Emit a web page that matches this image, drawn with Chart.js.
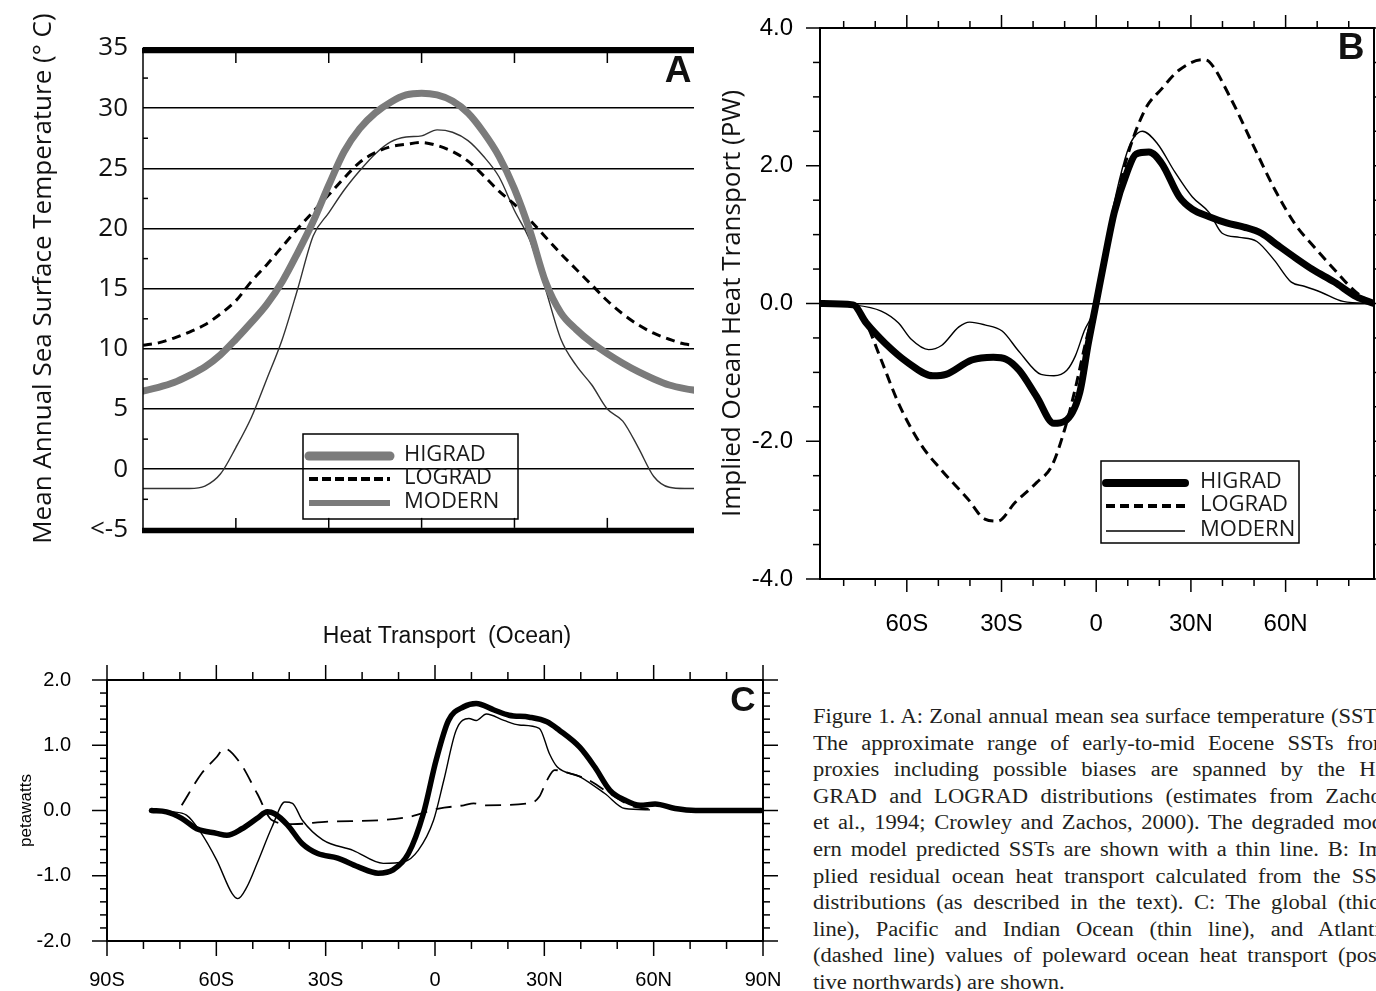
<!DOCTYPE html>
<html>
<head>
<meta charset="utf-8">
<script src="https://cdn.jsdelivr.net/npm/chart.js@4.4.1/dist/chart.umd.min.js"></script>
<style>
  html, body { margin: 0; padding: 0; background: #fff; }
  body { width: 1376px; height: 991px; position: relative; overflow: hidden; }
  canvas { position: absolute; }
  #chartA { left: 0; top: 0; }
  #chartB { left: 700px; top: 0; }
  #chartC { left: 0; top: 600px; }
  #caption { position: absolute; left: 813px; top: 703px; width: 525px;
    font-family: 'Liberation Serif', 'Times New Roman', serif; font-size: 20.5px;
    line-height: 26.6px; color: #231f20; transform: scaleX(1.1); transform-origin: 0 0; }
  #caption div { white-space: nowrap; text-align: justify; text-align-last: justify; }
  #caption div.last { text-align-last: left; }
</style>
</head>
<body>
<canvas id="chartA" width="700" height="560"></canvas>
<canvas id="chartB" width="676" height="640"></canvas>
<canvas id="chartC" width="790" height="391"></canvas>
<div id="caption">
  <div>Figure 1. A: Zonal annual mean sea surface temperature (SST).</div>
  <div>The approximate range of early-to-mid Eocene SSTs from</div>
  <div>proxies including possible biases are spanned by the HI-</div>
  <div>GRAD and LOGRAD distributions (estimates from Zachos</div>
  <div>et al., 1994; Crowley and Zachos, 2000). The degraded mod-</div>
  <div>ern model predicted SSTs are shown with a thin line. B: Im-</div>
  <div>plied residual ocean heat transport calculated from the SST</div>
  <div>distributions (as described in the text). C: The global (thick</div>
  <div>line), Pacific and Indian Ocean (thin line), and Atlantic</div>
  <div>(dashed line) values of poleward ocean heat transport (posi-</div>
  <div class="last">tive northwards) are shown.</div>
</div>
<script>
// ---- panel A : zonal mean SST (deg C) ----
const latA = [-90, -85, -80, -75, -70, -65, -60, -55, -50, -45, -40, -35, -30, -25, -20, -15, -10, -5, 0,
  5, 10, 15, 20, 25, 30, 35, 40, 45, 50, 55, 60, 65, 70, 75, 80, 85, 90];
const higradSST = [6.5, 6.8, 7.2, 7.8, 8.5, 9.5, 10.8, 12.2, 13.7, 15.6, 18.0, 20.6, 23.6, 26.4, 28.3, 29.6, 30.5, 31.1, 31.25,
  31.1, 30.6, 29.6, 28.0, 26.0, 23.3, 19.8, 15.6, 13.0, 11.6, 10.5, 9.6, 8.8, 8.1, 7.5, 7.0, 6.7, 6.5];
const logradSST = [10.3, 10.5, 10.9, 11.4, 12.0, 12.9, 14.0, 15.6, 17.0, 18.5, 20.0, 21.4, 22.8, 24.2, 25.5, 26.3, 26.8, 27.0, 27.15,
  26.9, 26.4, 25.6, 24.4, 23.1, 22.0, 20.7, 19.3, 17.9, 16.6, 15.3, 14.0, 12.9, 12.0, 11.3, 10.8, 10.4, 10.3];
const modernSST = [-1.6, -1.6, -1.6, -1.6, -1.4, -0.4, 1.8, 4.3, 7.5, 10.8, 15.0, 19.4, 21.3, 23.2, 24.8, 26.2, 27.2, 27.6, 27.7,
  28.2, 28.0, 27.3, 26.0, 24.3, 21.5, 19.0, 15.0, 10.8, 8.6, 7.0, 5.0, 4.0, 1.8, -0.6, -1.5, -1.6, -1.6];
const sstTicks = [-5, 0, 5, 10, 15, 20, 25, 30, 35];
const sstTickLabels = ['<-5', '0', '5', '10', '15', '20', '25', '30', '35'];

// ---- panel B : implied ocean heat transport (PW) ----
const bHigradLat = [-87.5, -77, -72.9, -66.8, -59.9, -51.7, -47.6, -39.4, -32.6, -28.5, -24.4, -18.9, -13.4, -10, -5.2, -2.5, 0,
  3, 5.7, 9.8, 12.6, 16.7, 20.8, 26.3, 30.4, 35.8, 41.3, 46.8, 52.3, 57.7, 63.2, 68.7, 75.5, 82.4, 88];
const bHigradPW = [0, -0.02, -0.28, -0.58, -0.85, -1.05, -1.03, -0.82, -0.78, -0.81, -0.97, -1.35, -1.74, -1.71, -1.29, -0.58, 0.01,
  0.72, 1.32, 1.91, 2.17, 2.20, 2.03, 1.55, 1.37, 1.26, 1.17, 1.11, 1.02, 0.84, 0.66, 0.49, 0.31, 0.10, 0];
const bLogradLat = [-87.5, -77, -72.9, -68.1, -62.7, -55.8, -49, -40.8, -35.3, -31.2, -25.7, -18.9, -14.1, -10, -6.6, -3.1, 0,
  3.7, 8.5, 15.3, 20.8, 26.3, 33.8, 35.8, 42.7, 49.5, 56.4, 63.2, 68.7, 75.5, 82.4, 88];
const bLogradPW = [0, 0, -0.28, -0.82, -1.44, -2.03, -2.42, -2.83, -3.13, -3.16, -2.89, -2.60, -2.36, -1.83, -1.23, -0.52, 0,
  0.84, 1.91, 2.80, 3.12, 3.39, 3.54, 3.51, 2.97, 2.32, 1.67, 1.14, 0.84, 0.49, 0.16, 0];
const bModernLat = [-87.5, -77, -68.1, -62.7, -58.6, -53.1, -49, -43.5, -40.1, -35.3, -29.8, -24.4, -17.5, -13.4, -9.3, -6.6, -3.8, 0,
  3, 6.4, 9.8, 11.9, 14.6, 19.4, 24.9, 30.4, 35.8, 39.9, 45.4, 50.9, 56.4, 61.8, 65.9, 71.4, 78.2, 88];
const bModernPW = [0, -0.02, -0.11, -0.28, -0.52, -0.67, -0.61, -0.34, -0.27, -0.31, -0.40, -0.70, -1.03, -1.05, -0.97, -0.76, -0.40, 0,
  0.84, 1.61, 2.2, 2.41, 2.50, 2.32, 1.91, 1.55, 1.32, 1.02, 0.96, 0.90, 0.63, 0.31, 0.25, 0.16, 0.03, 0];
const bLatTicks = [-60, -30, 0, 30, 60];
const bLatLabels = ['60S', '30S', '0', '30N', '60N'];
const bPwTicks = [-4, -2, 0, 2, 4];
const bPwLabels = ['-4.0', '-2.0', '0.0', '2.0', '4.0'];

// ---- panel C : ocean heat transport by basin (PW) ----
const cGlobalLat = [-77.8, -73.7, -69.5, -65.4, -59.9, -57.1, -53, -48.8, -46, -44, -40.5, -36.4, -32.2, -26.7, -21.2, -15.6, -11.5,
  -7.3, -3.2, 0.3, 3.7, 7.9, 11.3, 16.2, 20.3, 25.9, 30.7, 34.1, 39.7, 43.8, 48, 52.1, 56.3, 60.4, 65.9, 71.5, 89.5];
const cGlobalPW = [0, -0.02, -0.12, -0.28, -0.35, -0.38, -0.28, -0.12, -0.02, -0.05, -0.22, -0.51, -0.66, -0.73, -0.86, -0.96, -0.91,
  -0.66, -0.05, 0.77, 1.38, 1.59, 1.64, 1.54, 1.46, 1.43, 1.36, 1.23, 0.97, 0.67, 0.31, 0.16, 0.08, 0.1, 0.03, 0, 0];
const cPacIndLat = [-77.8, -72.3, -68.2, -64.7, -59.9, -55.7, -54.1, -51.6, -48.8, -44.7, -41.2, -39.1, -36.4, -30.8, -22.5, -14.2,
  -8.7, -4.6, -0.4, 2.4, 5.8, 9.3, 11.3, 14.1, 18.9, 23.1, 28.6, 31.4, 33.5, 39.7, 46.6, 52.1, 59];
const cPacIndPW = [0, -0.02, -0.07, -0.30, -0.76, -1.27, -1.35, -1.17, -0.81, -0.25, 0.13, 0.11, -0.15, -0.45, -0.61, -0.81,
  -0.79, -0.61, -0.15, 0.46, 1.23, 1.41, 1.38, 1.48, 1.38, 1.31, 1.26, 0.87, 0.67, 0.52, 0.26, 0.03, 0.01];
const cAtlLat = [-69.5, -64, -59.9, -57.8, -53.6, -48.8, -44.7, -39.1, -29.4, -15.6, -7.3, 1, 7.9, 10.6, 13.4, 25.9, 28.6,
  30.7, 32.8, 37, 42.4, 46.6, 53.5, 60.4];
const cAtlPW = [0.08, 0.57, 0.82, 0.95, 0.74, 0.26, -0.15, -0.21, -0.17, -0.15, -0.10, 0.03, 0.08, 0.11, 0.08, 0.11, 0.21,
  0.46, 0.62, 0.57, 0.46, 0.31, 0.08, 0.01];
const cLatTicks = [-90, -60, -30, 0, 30, 60, 90];
const cLatLabels = ['90S', '60S', '30S', '0', '30N', '60N', '90N'];
const cPwTicks = [-2, -1, 0, 1, 2];
const cPwLabels = ['-2.0', '-1.0', '0.0', '1.0', '2.0'];

const toXY = (xs, ys) => xs.map((v, i) => ({ x: v, y: ys[i] }));
const myriad = '"Open Sans", "Noto Sans", sans-serif';
const helv = '"Liberation Sans", Arial, sans-serif';
const clear = 'rgba(0,0,0,0)';

// tick marks: k*step for k in [from..to], major every `every` steps
function tickSet(from, to, step, every, majorLen, minorLen) {
  const out = [];
  for (let k = from; k <= to; k++) {
    out.push({ v: k * step, len: k % every === 0 ? majorLen : minorLen });
  }
  return out;
}

function seg(ctx, x1, y1, x2, y2, w) {
  ctx.lineWidth = w;
  ctx.beginPath();
  ctx.moveTo(x1, y1);
  ctx.lineTo(x2, y2);
  ctx.stroke();
}

// frame, tick marks, legend box and loose labels
const panelPlugin = {
  id: 'panel',
  afterDraw(chart, args, o) {
    const { ctx, chartArea: a, scales: { x, y } } = chart;
    ctx.save();
    ctx.strokeStyle = '#000';
    ctx.fillStyle = '#000';

    if (o.frame === 'box') {
      ctx.lineWidth = o.frameWidth;
      ctx.strokeRect(a.left, a.top, a.right - a.left, a.bottom - a.top);
    } else if (o.frame === 'bars') {
      seg(ctx, a.left, a.top, a.left, a.bottom, 1.5);
      seg(ctx, a.left - 1, a.top + 2.5, a.right, a.top + 2.5, 5.5);
      seg(ctx, a.left - 1, a.bottom + 1, a.right, a.bottom + 1, 5.5);
    }

    const d = o.inward ? -1 : 1;
    (o.xTicks || []).forEach(t => {
      const px = x.getPixelForValue(t.v);
      const top = o.inward ? a.top + 5 : a.top;
      const bot = o.inward ? a.bottom - 1.5 : a.bottom;
      seg(ctx, px, top, px, top - d * t.len, o.tickWidth);
      seg(ctx, px, bot, px, bot + d * t.len, o.tickWidth);
    });
    (o.yTicks || []).forEach(t => {
      const py = y.getPixelForValue(t.v);
      seg(ctx, a.left, py, a.left - d * t.len, py, o.tickWidth);
      if (o.rightTicks) seg(ctx, a.right, py, a.right + d * t.len, py, o.tickWidth);
    });

    const lg = o.legend;
    if (lg) {
      ctx.lineWidth = 1.5;
      ctx.strokeRect(lg.box[0], lg.box[1], lg.box[2], lg.box[3]);
      ctx.font = lg.font;
      ctx.textBaseline = 'middle';
      ctx.textAlign = 'left';
      chart.data.datasets.forEach((ds, i) => {
        const st = lg.styles[i];
        const ry = lg.rows[i];
        ctx.save();
        ctx.strokeStyle = st.color;
        ctx.lineCap = st.cap || 'butt';
        ctx.setLineDash(st.dash || []);
        seg(ctx, lg.lineX[0], ry, lg.lineX[1], ry, st.width);
        ctx.restore();
        ctx.fillStyle = '#1a1a1a';
        ctx.fillText(ds.label, lg.textX, ry - 1);
      });
    }

    (o.texts || []).forEach(t => {
      ctx.font = t.font;
      ctx.textAlign = 'center';
      ctx.textBaseline = 'middle';
      ctx.fillStyle = '#111';
      ctx.fillText(t.text, t.x, t.y);
    });
    ctx.restore();
  }
};

const lineDefaults = { pointRadius: 0, fill: false, cubicInterpolationMode: 'monotone', borderJoinStyle: 'round' };

// ---------------- Panel A ----------------
new Chart(document.getElementById('chartA'), {
  type: 'line',
  data: {
    datasets: [
      { ...lineDefaults, label: 'HIGRAD', data: toXY(latA, higradSST), borderColor: '#7b7b7b', borderWidth: 7, borderCapStyle: 'round' },
      { ...lineDefaults, label: 'LOGRAD', data: toXY(latA, logradSST), borderColor: '#000', borderWidth: 3, borderDash: [9, 6] },
      { ...lineDefaults, label: 'MODERN', data: toXY(latA, modernSST), borderColor: '#333', borderWidth: 1.4 }
    ]
  },
  options: {
    responsive: false,
    animation: false,
    layout: { padding: { left: 0, top: 48, right: 6, bottom: 18 } },
    scales: {
      x: { type: 'linear', min: -90, max: 88, display: false },
      y: {
        min: -5, max: 35,
        afterFit: s => { s.width = 143; },
        afterBuildTicks: s => { s.ticks = sstTicks.map(v => ({ value: v })); },
        border: { display: false },
        grid: { color: '#000', lineWidth: 1.5, drawTicks: false },
        ticks: {
          padding: 15, color: '#111', font: { family: myriad, size: 26 },
          callback: v => sstTickLabels[sstTicks.indexOf(v)]
        },
        title: {
          display: true, text: '\u00a0\u00a0\u00a0Mean Annual Sea Surface Temperature (\u00b0 C)',
          color: '#111', font: { family: myriad, size: 26 }, padding: { top: 28, bottom: 0 }
        }
      }
    },
    plugins: {
      legend: { display: false },
      tooltip: { enabled: false },
      panel: {
        frame: 'bars', inward: true, tickWidth: 1.5,
        xTicks: [-60, -30, 0, 30, 60].map(v => ({ v: v, len: 10 })),
        yTicks: tickSet(-1, 13, 2.5, 2, 0, 5).filter(t => t.len > 0),
        legend: {
          box: [303, 434, 215, 85], lineX: [309, 390], textX: 404, rows: [456, 479, 503],
          font: '22px ' + myriad,
          styles: [
            { color: '#7b7b7b', width: 9, cap: 'round' },
            { color: '#000', width: 4, dash: [9, 4] },
            { color: '#7b7b7b', width: 6 }
          ]
        },
        texts: [{ text: 'A', x: 678, y: 72, font: 'bold 37px ' + helv }]
      }
    }
  },
  plugins: [panelPlugin]
});

// ---------------- Panel B ----------------
new Chart(document.getElementById('chartB'), {
  type: 'line',
  data: {
    datasets: [
      { ...lineDefaults, label: 'HIGRAD', data: toXY(bHigradLat, bHigradPW), borderColor: '#000', borderWidth: 7, borderCapStyle: 'round' },
      { ...lineDefaults, label: 'LOGRAD', data: toXY(bLogradLat, bLogradPW), borderColor: '#000', borderWidth: 3, borderDash: [10, 6] },
      { ...lineDefaults, label: 'MODERN', data: toXY(bModernLat, bModernPW), borderColor: '#000', borderWidth: 1.4 }
    ]
  },
  options: {
    responsive: false,
    animation: false,
    layout: { padding: { left: 0, top: 28, right: 2, bottom: 0 } },
    scales: {
      x: {
        type: 'linear', min: -87.5, max: 88,
        afterFit: s => { s.height = 61; },
        afterBuildTicks: s => { s.ticks = bLatTicks.map(v => ({ value: v })); },
        border: { display: false },
        grid: { display: false },
        ticks: {
          padding: 23, color: '#000', maxRotation: 0, font: { family: helv, size: 24 },
          callback: v => bLatLabels[bLatTicks.indexOf(v)]
        }
      },
      y: {
        min: -4, max: 4,
        afterFit: s => { s.width = 120; },
        afterBuildTicks: s => { s.ticks = bPwTicks.map(v => ({ value: v })); },
        border: { display: false },
        grid: {
          drawTicks: true, tickLength: 24, tickColor: clear, lineWidth: 1.5,
          color: c => (c.tick && c.tick.value === 0 ? '#000' : clear)
        },
        ticks: {
          padding: 3, color: '#000', font: { family: helv, size: 24 },
          callback: v => bPwLabels[bPwTicks.indexOf(v)]
        },
        title: {
          display: true, text: 'Implied Ocean Heat Transport (PW)',
          color: '#111', font: { family: myriad, size: 26 }, padding: { top: 17, bottom: 0 }
        }
      }
    },
    plugins: {
      legend: { display: false },
      tooltip: { enabled: false },
      panel: {
        frame: 'box', frameWidth: 2, inward: false, tickWidth: 1.5, rightTicks: true,
        xTicks: tickSet(-8, 8, 10, 3, 13, 7),
        yTicks: tickSet(-8, 8, 0.5, 4, 14, 7),
        legend: {
          box: [401, 461, 198, 82], lineX: [406, 485], textX: 500, rows: [483, 506, 531],
          font: '22px ' + myriad,
          styles: [
            { color: '#000', width: 8, cap: 'round' },
            { color: '#000', width: 4, dash: [9, 5] },
            { color: '#000', width: 1.4 }
          ]
        },
        texts: [{ text: 'B', x: 651, y: 49, font: 'bold 37px ' + helv }]
      }
    }
  },
  plugins: [panelPlugin]
});

// ---------------- Panel C ----------------
new Chart(document.getElementById('chartC'), {
  type: 'line',
  data: {
    datasets: [
      { ...lineDefaults, label: 'Global', data: toXY(cGlobalLat, cGlobalPW), borderColor: '#000', borderWidth: 5.5, borderCapStyle: 'round' },
      { ...lineDefaults, label: 'Pacific and Indian', data: toXY(cPacIndLat, cPacIndPW), borderColor: '#000', borderWidth: 1.4 },
      { ...lineDefaults, label: 'Atlantic', data: toXY(cAtlLat, cAtlPW), borderColor: '#000', borderWidth: 1.8, borderDash: [16, 9] }
    ]
  },
  options: {
    responsive: false,
    animation: false,
    layout: { padding: { left: 0, top: 80, right: 27, bottom: 0 } },
    scales: {
      x: {
        type: 'linear', min: -90, max: 90,
        afterFit: s => { s.height = 50; },
        afterBuildTicks: s => { s.ticks = cLatTicks.map(v => ({ value: v })); },
        border: { display: false },
        grid: { display: true, drawOnChartArea: false, drawTicks: true, tickLength: 24, tickColor: clear },
        ticks: {
          padding: 3, color: '#000', maxRotation: 0, font: { family: helv, size: 20 },
          callback: v => cLatLabels[cLatTicks.indexOf(v)]
        }
      },
      y: {
        min: -2, max: 2,
        afterFit: s => { s.width = 107; },
        afterBuildTicks: s => { s.ticks = cPwTicks.map(v => ({ value: v })); },
        border: { display: false },
        grid: { display: false },
        ticks: {
          padding: 28, color: '#000', font: { family: helv, size: 20 },
          callback: v => cPwLabels[cPwTicks.indexOf(v)]
        },
        title: {
          display: true, text: 'petawatts',
          color: '#000', font: { family: helv, size: 17 }, padding: { top: 16, bottom: 0 }
        }
      }
    },
    plugins: {
      legend: { display: false },
      tooltip: { enabled: false },
      panel: {
        frame: 'box', frameWidth: 2, inward: false, tickWidth: 1.5, rightTicks: true,
        xTicks: tickSet(-9, 9, 10, 3, 15, 8),
        yTicks: tickSet(-10, 10, 0.2, 5, 15, 7),
        texts: [
          { text: 'C', x: 743, y: 101, font: 'bold 35px ' + helv },
          { text: 'Heat Transport  (Ocean)', x: 447, y: 37, font: '23px ' + helv }
        ]
      }
    }
  },
  plugins: [panelPlugin]
});
</script>
</body>
</html>
